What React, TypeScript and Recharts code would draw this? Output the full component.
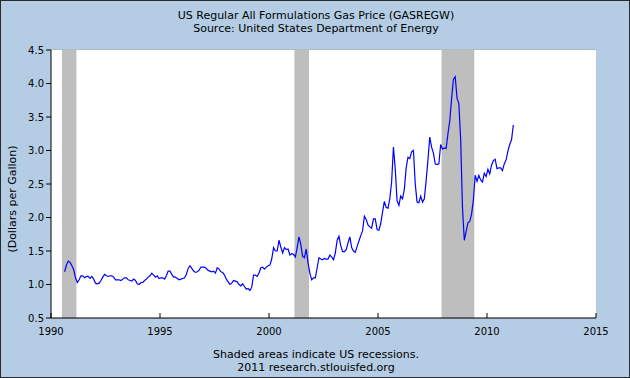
import React from "react";
import { LineChart, Line, XAxis, YAxis, CartesianGrid, ReferenceArea } from "recharts";

// monthly readings (dollars per gallon), series starts Aug 1990
const firstMonth1990 = 8;
const p1990 = [1.19, 1.29, 1.35, 1.33, 1.28];
const p1991 = [1.22, 1.1, 1.03, 1.07, 1.13, 1.13, 1.1, 1.12, 1.12, 1.09, 1.12, 1.08];
const p1992 = [1.02, 1.01, 1.02, 1.06, 1.11, 1.15, 1.13, 1.12, 1.13, 1.13, 1.11, 1.07];
const p1993 = [1.07, 1.07, 1.06, 1.08, 1.1, 1.1, 1.07, 1.06, 1.05, 1.08, 1.06, 1.01];
const p1994 = [1.0, 1.03, 1.03, 1.06, 1.08, 1.11, 1.13, 1.17, 1.14, 1.11, 1.13, 1.09];
const p1995 = [1.1, 1.1, 1.08, 1.13, 1.2, 1.2, 1.15, 1.11, 1.11, 1.09, 1.07, 1.08];
const p1996 = [1.09, 1.1, 1.15, 1.24, 1.28, 1.24, 1.2, 1.18, 1.19, 1.21, 1.26, 1.26];
const p1997 = [1.26, 1.24, 1.21, 1.2, 1.19, 1.2, 1.17, 1.25, 1.23, 1.19, 1.18, 1.14];
const p1998 = [1.08, 1.04, 1.0, 1.02, 1.06, 1.05, 1.04, 1.0, 0.98, 1.01, 0.97, 0.93];
const p1999 = [0.94, 0.91, 0.96, 1.14, 1.14, 1.12, 1.17, 1.25, 1.26, 1.23, 1.26, 1.28];
const p2000 = [1.29, 1.38, 1.55, 1.5, 1.5, 1.66, 1.56, 1.47, 1.55, 1.52, 1.53, 1.44];
const p2001 = [1.46, 1.45, 1.41, 1.55, 1.71, 1.6, 1.42, 1.4, 1.53, 1.32, 1.17, 1.07];
const p2002 = [1.1, 1.1, 1.25, 1.4, 1.38, 1.37, 1.39, 1.38, 1.38, 1.44, 1.41, 1.37];
const p2003 = [1.47, 1.66, 1.72, 1.58, 1.49, 1.49, 1.52, 1.62, 1.71, 1.55, 1.5, 1.48];
const p2004 = [1.57, 1.65, 1.73, 1.8, 2.02, 1.97, 1.89, 1.86, 1.84, 1.98, 1.98, 1.82];
const p2005 = [1.81, 1.91, 2.08, 2.24, 2.15, 2.14, 2.28, 2.53, 3.05, 2.72, 2.25, 2.18];
const p2006 = [2.32, 2.28, 2.42, 2.74, 2.9, 2.88, 2.98, 3.0, 2.5, 2.23, 2.22, 2.32];
const p2007 = [2.23, 2.28, 2.55, 2.86, 3.2, 3.05, 2.96, 2.8, 2.79, 2.8, 3.09, 3.02];
const p2008 = [3.04, 3.03, 3.25, 3.44, 3.77, 4.06, 4.1, 3.78, 3.7, 3.17, 2.15, 1.66];
const p2009 = [1.79, 1.92, 1.94, 2.05, 2.26, 2.63, 2.54, 2.63, 2.56, 2.53, 2.66, 2.61];
const p2010 = [2.72, 2.65, 2.78, 2.85, 2.87, 2.73, 2.74, 2.74, 2.7, 2.8, 2.86, 2.99];
const p2011 = [3.09, 3.16, 3.38];

const years = [1990, 1991, 1992, 1993, 1994, 1995, 1996, 1997, 1998, 1999, 2000,
  2001, 2002, 2003, 2004, 2005, 2006, 2007, 2008, 2009, 2010, 2011];
const yearValues = [p1990, p1991, p1992, p1993, p1994, p1995, p1996, p1997, p1998, p1999, p2000,
  p2001, p2002, p2003, p2004, p2005, p2006, p2007, p2008, p2009, p2010, p2011];

// recessions (start, end) as fractional years
const recessionStart = [1990.5, 2001.167, 2007.917];
const recessionEnd = [1991.167, 2001.833, 2009.417];

const xTicks = [1990, 1995, 2000, 2005, 2010, 2015];
const yTicks = [0.5, 1.0, 1.5, 2.0, 2.5, 3.0, 3.5, 4.0, 4.5];

const data = years.flatMap((yr, i) => {
  const start = yr === 1990 ? firstMonth1990 : 1;
  return yearValues[i].map((v, j) => ({ t: yr + (start + j - 0.5) / 12, price: v }));
});

const FONT = "'DejaVu Sans', Verdana, sans-serif";

function XTick(props: any) {
  const { x, y, payload } = props;
  return (
    <g>
      <line x1={x} y1={y} x2={x} y2={y - 5} stroke="#000" />
      <text x={x} y={y + 17} textAnchor="middle" fontSize={10} fontFamily={FONT} fill="#000">
        {payload.value}
      </text>
    </g>
  );
}

export default function App() {
  const textStyle: React.CSSProperties = {
    position: "absolute",
    left: 0,
    width: 630,
    textAlign: "center",
    fontFamily: FONT,
    fontSize: 11,
    color: "#000",
    lineHeight: "13px",
  };

  return (
    <div
      style={{
        position: "absolute",
        left: 0,
        top: 0,
        width: 630,
        height: 378,
        background: "#B4CDE4",
        border: "1px solid #2a2a2a",
        boxSizing: "border-box",
        overflow: "hidden",
      }}
    >
      <div style={{ ...textStyle, top: 8 }}>
        US Regular All Formulations Gas Price (GASREGW)
        <br />
        Source: United States Department of Energy
      </div>
      <div style={{ ...textStyle, top: 347 }}>
        Shaded areas indicate US recessions.
        <br />
        2011 research.stlouisfed.org
      </div>
      <div
        style={{
          position: "absolute",
          left: 11,
          top: 198,
          transform: "translate(-50%, -50%) rotate(-90deg)",
          whiteSpace: "nowrap",
          fontFamily: FONT,
          fontSize: 11,
        }}
      >
        (Dollars per Gallon)
      </div>
      <div style={{ position: "absolute", left: -1, top: -1 }}>
        <LineChart width={630} height={378} data={data} margin={{ top: 50, right: 34, left: 11, bottom: 30 }}>
          <rect x={51} y={50} width={545} height={268} fill="#fff" />
          <CartesianGrid vertical={false} stroke="#A8A8A8" fill="#fff" />
          {recessionStart.map((s, i) => (
            <ReferenceArea key={s} x1={s} x2={recessionEnd[i]} fill="#BEBEBE" fillOpacity={1} stroke="none" />
          ))}
          <XAxis
            dataKey="t"
            type="number"
            domain={[1990, 2015]}
            ticks={xTicks}
            allowDataOverflow
            height={30}
            tickSize={0}
            tickMargin={0}
            tickLine={false}
            axisLine={{ stroke: "#000" }}
            tick={<XTick />}
          />
          <YAxis
            type="number"
            domain={[0.5, 4.5]}
            ticks={yTicks}
            width={40}
            tickSize={5}
            tickMargin={2}
            tickFormatter={(v: number) => v.toFixed(1)}
            tick={{ fontSize: 10, fontFamily: FONT, fill: "#000" }}
            axisLine={{ stroke: "#000" }}
            tickLine={{ stroke: "#000" }}
          />
          <Line
            type="linear"
            dataKey="price"
            stroke="#0000FF"
            strokeWidth={1.2}
            dot={false}
            isAnimationActive={false}
          />
        </LineChart>
      </div>
    </div>
  );
}
